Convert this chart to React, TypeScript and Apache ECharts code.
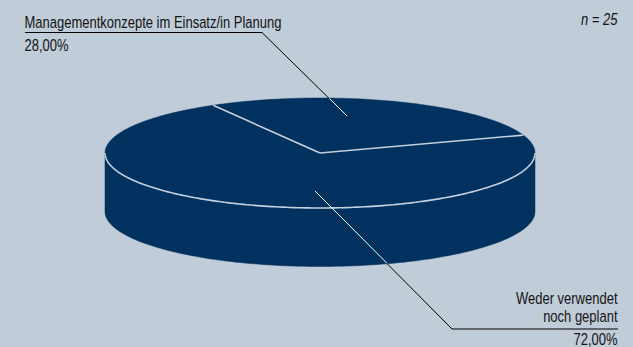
import React, { useEffect, useRef } from "react";
import * as echarts from "echarts";

const categories = ["Managementkonzepte im Einsatz/in Planung", "Weder verwendet noch geplant"];
const shares = [28, 72];
const sampleSize = 25;

const BG = "#C0CCD8";
const PIE = "#00315F";
const SEP = "#C4D0DC";
const FONT = "Liberation Sans, Arial, sans-serif";
const TXT = "#141414";
const SY = 1.24;

const CX = 320, CY = 153, RX = 215, RY = 55, DEPTH = 58.5, START = 19;

function pt(a: number, dy = 0): number[] {
  const r = (a * Math.PI) / 180;
  return [CX + RX * Math.cos(r), CY - RY * Math.sin(r) + dy];
}
function arc(a0: number, a1: number, dy = 0): number[][] {
  const out: number[][] = [];
  const n = Math.max(2, Math.ceil(Math.abs(a1 - a0)));
  for (let k = 0; k <= n; k++) out.push(pt(a0 + ((a1 - a0) * k) / n, dy));
  return out;
}
const fmt = (v: number) => v.toFixed(2).replace(".", ",") + "%";

function label(text: string, x: number, y: number, align: string, italic = false) {
  return {
    type: "text",
    z: 10,
    x,
    y,
    scaleY: SY,
    style: {
      text,
      font: `${italic ? "italic " : ""}13px ${FONT}`,
      fill: TXT,
      textAlign: align,
      textVerticalAlign: "middle",
    },
  };
}

export default function App() {
  const ref = useRef<HTMLDivElement>(null);
  useEffect(() => {
    document.body.style.margin = "0";
    const chart = echarts.init(ref.current!, undefined, { renderer: "svg" });
    const total = shares.reduce((s, v) => s + v, 0);
    const renderItem = (params: any) => {
      const i = params.dataIndex;
      let start = START;
      for (let k = 0; k < i; k++) start += (shares[k] / total) * 360;
      const end = start + (shares[i] / total) * 360;
      const children: any[] = [];
      for (const off of [-360, 0, 360]) {
        const lo = Math.max(start, 180 + off);
        const hi = Math.min(end, 360 + off);
        if (hi > lo) {
          const top = arc(lo, hi);
          const bot = arc(hi, lo, DEPTH);
          children.push({ type: "polygon", shape: { points: top.concat(bot) }, style: { fill: PIE, stroke: PIE, lineWidth: 0.5 } });
          children.push({ type: "polyline", z2: 5, shape: { points: top }, style: { stroke: SEP, lineWidth: 1.6, fill: null } });
        }
      }
      children.push({ type: "polygon", shape: { points: [[CX, CY]].concat(arc(start, end)) }, style: { fill: PIE, stroke: PIE, lineWidth: 0.5 } });
      children.push({ type: "line", z2: 6, shape: { x1: CX, y1: CY, x2: pt(start)[0], y2: pt(start)[1] }, style: { stroke: SEP, lineWidth: 1.6 } });
      return { type: "group", children };
    };
    chart.setOption({
      animation: false,
      backgroundColor: BG,
      series: [
        {
          type: "custom",
          coordinateSystem: "none",
          renderItem,
          data: shares.map((v, i) => ({ value: v, name: categories[i] })),
          z: 2,
        },
      ],
      graphic: [
        { type: "polyline", z: 0, shape: { points: [[25, 32.5], [262, 32.5], [347, 116]] }, style: { stroke: "#000", lineWidth: 1, fill: null } },
        { type: "line", z: 10, shape: { x1: 329.5, y1: 98.5, x2: 347, y2: 116 }, style: { stroke: "#FFFFFF", lineWidth: 1 } },
        { type: "polyline", z: 0, shape: { points: [[315, 191], [452, 329], [618, 329]] }, style: { stroke: "#000", lineWidth: 1, fill: null } },
        { type: "line", z: 10, shape: { x1: 315, y1: 191, x2: 387, y2: 263.3 }, style: { stroke: "#FFFFFF", lineWidth: 1 } },
        label(categories[0], 24.5, 22.5, "left"),
        label(fmt(shares[0]), 24.5, 45.5, "left"),
        label(`n = ${sampleSize}`, 617.5, 19.5, "right", true),
        label("Weder verwendet", 617.5, 298, "right"),
        label("noch geplant", 617.5, 316, "right"),
        label(fmt(shares[1]), 617.5, 339, "right"),
      ],
    });
    return () => chart.dispose();
  }, []);
  return <div ref={ref} style={{ position: "absolute", left: 0, top: 0, width: 633, height: 347 }} />;
}
